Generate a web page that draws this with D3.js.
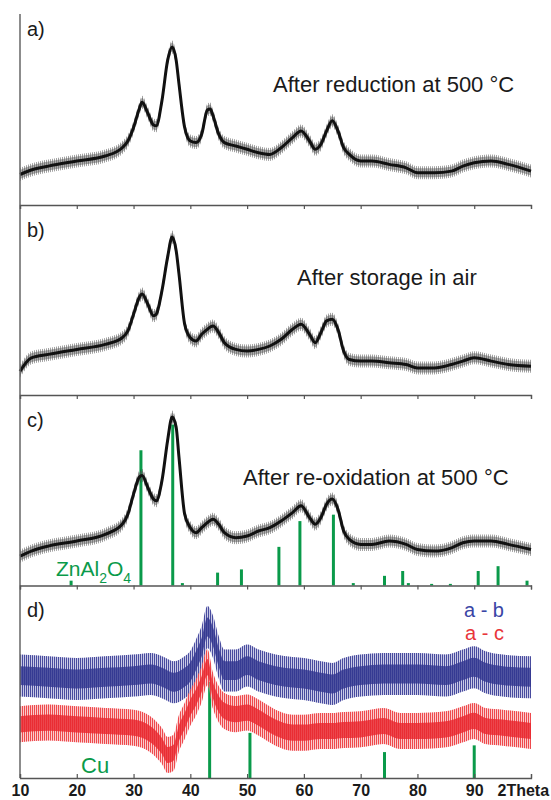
<!DOCTYPE html>
<html>
<head>
<meta charset="utf-8">
<script src="https://cdn.jsdelivr.net/npm/d3@7"></script>
<style>
  html, body { margin: 0; padding: 0; background: #fff; }
  svg { display: block; font-family: "Liberation Sans", Arial, sans-serif; }
</style>
</head>
<body>
<svg id="chart" width="551" height="800"></svg>
<script>
// ---------------- DATA ----------------
const tickValues = [10, 20, 30, 40, 50, 60, 70, 80, 90, 100];
const panelLabels = ["a)", "b)", "c)", "d)"];
const panelTitles = ["After reduction at 500 °C", "After storage in air", "After re-oxidation at 500 °C"];

// 2Theta grid for traces a-c
const thetaABC = [10,12,15,20,25,28,29,30,31,31.5,32.5,33.5,34,35,36,36.8,37.5,38,39,40,41,42,43,43.5,44,45,46,48,50,52,54,56,58,59.5,61,62,63,64,65,66,67,68,70,72,75,78,80,83,86,88,90,93,96,100];
const intensityA = [30.5,35,38.9,44,49,57.3,64,77.5,96,102.7,92,80,79.2,104.3,144.6,158,145,121.1,77.5,64,62.4,70.8,95,96,89.2,70.8,62.4,59,55.7,52.3,50.6,57.3,67.4,74.1,64,55.7,60.7,74.1,84.2,74.1,57.3,50.6,44,44,40.6,37.2,32.2,32.2,33.9,38.9,42.2,44,40.6,33.9];
const intensityB = [23.8,37.2,40.6,45.6,50.6,57.3,64.1,80.8,97.6,101,91,79.2,80.8,104.3,137.9,158,144.6,121.1,70.8,57.3,54,60.7,65.7,68,69.1,62.4,52.3,45.6,44,45.6,49,55.7,65.7,70.8,60.7,52.3,62.4,74.1,75.8,65.7,44,35.5,33.9,33.9,32.2,30.5,27.1,27.1,30.5,33.9,37.2,33.9,30.5,28.8];
const intensityC = [29.3,34.4,39.4,44.5,51.1,61.2,71.3,91.4,108.2,109.9,98.1,86.4,84.7,104.8,145.1,168.6,158.5,128.3,71.3,57.8,52.8,57.8,62.9,65,66.2,61.2,52.8,47.8,49.5,54.5,57.8,64.6,72.9,79.7,67.9,61.2,67.9,81.3,86.4,76.3,54.5,46.1,41.1,41.1,44.5,41.1,36,34.4,37.7,42.7,44.5,44.5,41.1,36];

// difference patterns (panel d)
const thetaD = [10,15,20,25,30,33,35,36,37,38,39,40,41,42,43,44,45,46,48,50,52,55,58,60,63,65,67,70,74,77,80,85,88,90,92,95,100];
const diffAB = [102.4,100.7,99,100.7,102.4,104,100.7,98,95.7,97,100.7,106,117.5,130.9,151,141,120.8,107.4,107.4,112.4,107.4,102.4,100,99,95.7,94,99,102.4,104,104,104,102.4,107.4,110.8,105.7,102.4,100.7];
const diffAC = [53.7,55.4,53.7,52,50.3,43.6,32,23,25,45,57.1,70.5,80.6,94,110.8,87.3,73.8,67.1,63.8,65.4,60.4,50.3,45.3,45.3,47,47,48,48.7,52,47,47,48.7,53.7,57.1,52,50.3,47];
const diffLabels = ["a - b", "a - c"];

// reference patterns (relative intensity, %)
const znal2o4Theta = [19.0,31.3,36.9,38.6,44.8,49.0,55.6,59.3,65.2,68.7,74.2,77.4,78.4,82.5,85.8,90.7,94.2,99.3];
const znal2o4Int   = [3,84,100,1.5,8,10,24,40,44,1.5,6,9,1.5,1,1,9,12,3];
const cuTheta = [43.4,50.5,74.2,90.0];
const cuInt   = [100,47,27,34];

// ---------------- LAYOUT ----------------
const svg = d3.select("#chart");
const x0 = 20, x1 = 531;
const panels = [
  {top: 14,    bottom: 205},
  {top: 205,   bottom: 395},
  {top: 395,   bottom: 585.5},
  {top: 585.5, bottom: 778}
];
const x = d3.scaleLinear().domain([10, 100]).range([x0, x1]);
const yFor = p => d3.scaleLinear().domain([0, 190]).range([p.bottom, p.bottom - 190]);

const green = "#0a9a4a";

// stripe patterns imitating dense detector noise
const defs = svg.append("defs");
function stripes(id, color, w) {
  const pat = defs.append("pattern").attr("id", id).attr("patternUnits", "userSpaceOnUse")
    .attr("width", w).attr("height", 7);
  pat.append("rect").attr("x", 0).attr("y", 0).attr("width", 1).attr("height", 7).attr("fill", color);
}
stripes("stripeGray", "#333", 2);
stripes("stripeBlue", "#3a3d96", 2);
stripes("stripeRed", "#ec3a3f", 2);

// ---------------- REFERENCE STICKS (drawn first) ----------------
{
  const p = panels[2];
  const ys = d3.scaleLinear().domain([0, 100]).range([p.bottom, p.bottom - 161]);
  svg.append("g").selectAll("line").data(znal2o4Theta).join("line")
    .attr("x1", d => x(d)).attr("x2", d => x(d))
    .attr("y1", p.bottom).attr("y2", (d, i) => ys(znal2o4Int[i]))
    .attr("stroke", green).attr("stroke-width", 3);
}
{
  const p = panels[3];
  const ys = d3.scaleLinear().domain([0, 100]).range([p.bottom, p.bottom - 96]);
  svg.append("g").selectAll("line").data(cuTheta).join("line")
    .attr("x1", d => x(d)).attr("x2", d => x(d))
    .attr("y1", p.bottom).attr("y2", (d, i) => ys(cuInt[i]))
    .attr("stroke", green).attr("stroke-width", 3);
}

// ---------------- TRACES a-c ----------------
const traces = [intensityA, intensityB, intensityC];
traces.forEach((vals, i) => {
  const p = panels[i];
  const y = yFor(p);
  const pts = thetaABC.map((t, k) => [t, vals[k]]);
  const line = d3.line().x(d => x(d[0])).y(d => y(d[1])).curve(d3.curveMonotoneX);
  const band = h => d3.area().x(d => x(d[0])).y0(d => y(d[1]) + h).y1(d => y(d[1]) - h).curve(d3.curveMonotoneX);
  svg.append("path").datum(pts).attr("d", band(6.5)).attr("fill", "url(#stripeGray)").attr("opacity", 0.45);
  svg.append("path").datum(pts).attr("d", band(4.5)).attr("fill", "#555").attr("opacity", 0.5);
  svg.append("path").datum(pts).attr("d", line).attr("fill", "none")
     .attr("stroke", "#111").attr("stroke-width", 3).attr("stroke-linejoin", "round");
});

// ---------------- DIFFERENCE TRACES d ----------------
{
  const p = panels[3];
  const y = yFor(p);
  const series = [
    {vals: diffAB, light: "#9c9ed2", pat: "url(#stripeBlue)", inner: "#31358f", half: 21},
    {vals: diffAC, light: "#f7a3a3", pat: "url(#stripeRed)", inner: "#e8262d", half: 18}
  ];
  series.forEach(s => {
    const pts = thetaD.map((t, k) => [t, s.vals[k]]);
    const bandOuter = d3.area().x(d => x(d[0]))
      .y0(d => Math.min(p.bottom, y(d[1]) + s.half)).y1(d => y(d[1]) - s.half).curve(d3.curveMonotoneX);
    const bandInner = d3.area().x(d => x(d[0]))
      .y0(d => Math.min(p.bottom, y(d[1]) + s.half * 0.45)).y1(d => y(d[1]) - s.half * 0.45).curve(d3.curveMonotoneX);
    svg.append("path").datum(pts).attr("d", bandOuter).attr("fill", s.light).attr("opacity", 0.55);
    svg.append("path").datum(pts).attr("d", bandOuter).attr("fill", s.pat).attr("opacity", 0.9);
    svg.append("path").datum(pts).attr("d", bandInner).attr("fill", s.inner).attr("opacity", 0.8);
  });
}

// ---------------- AXES ----------------
svg.append("line").attr("x1", x0).attr("x2", x0).attr("y1", panels[0].top).attr("y2", panels[3].bottom)
  .attr("stroke", "#666").attr("stroke-width", 1.5);

panels.forEach((p, i) => {
  const last = i === panels.length - 1;
  const axis = d3.axisBottom(x).tickValues(tickValues).tickSizeOuter(0);
  if (last) {
    axis.tickSize(-4).tickPadding(7).tickFormat(d => d === 100 ? "2Theta" : d);
  } else {
    axis.tickSize(4).tickFormat("");
  }
  const g = svg.append("g").attr("transform", `translate(0,${p.bottom})`).call(axis);
  g.select(".domain").attr("stroke", "#555").attr("stroke-width", 1.3);
  g.selectAll(".tick line").attr("stroke", "#555").attr("stroke-width", 1.2);
  if (last) {
    g.selectAll(".tick text")
      .attr("font-family", "'Liberation Sans', Arial, sans-serif")
      .attr("font-size", 16).attr("font-weight", "bold").attr("fill", "#1a1a1a");
    g.selectAll(".tick text").filter(d => d === 100)
      .attr("text-anchor", "start").attr("x", -34);
  }
});

// ---------------- TEXT ----------------
const labelBaselines = [36, 237, 427, 617];
panelLabels.forEach((t, i) => {
  svg.append("text").attr("x", 27).attr("y", labelBaselines[i])
    .attr("font-size", 20).attr("fill", "#1a1a1a").text(t);
});

const titlePos = [[273, 92], [297, 285], [243, 485]];
panelTitles.forEach((t, i) => {
  svg.append("text").attr("x", titlePos[i][0]).attr("y", titlePos[i][1])
    .attr("font-size", 22).attr("fill", "#1a1a1a").text(t);
});

// legend for d
svg.append("text").attr("x", 504).attr("y", 617).attr("text-anchor", "end")
  .attr("font-size", 20).attr("fill", "#3a45a5").text(diffLabels[0]);
svg.append("text").attr("x", 504).attr("y", 640).attr("text-anchor", "end")
  .attr("font-size", 20).attr("fill", "#e8353a").text(diffLabels[1]);

// phase labels
const zn = svg.append("text").attr("x", 56).attr("y", 576).attr("font-size", 21).attr("fill", green);
zn.append("tspan").text("ZnAl");
zn.append("tspan").attr("font-size", 14).attr("dy", 7).text("2");
zn.append("tspan").attr("dy", -7).text("O");
zn.append("tspan").attr("font-size", 14).attr("dy", 7).text("4");

svg.append("text").attr("x", 81).attr("y", 773).attr("font-size", 22).attr("fill", green).text("Cu");
</script>
</body>
</html>
